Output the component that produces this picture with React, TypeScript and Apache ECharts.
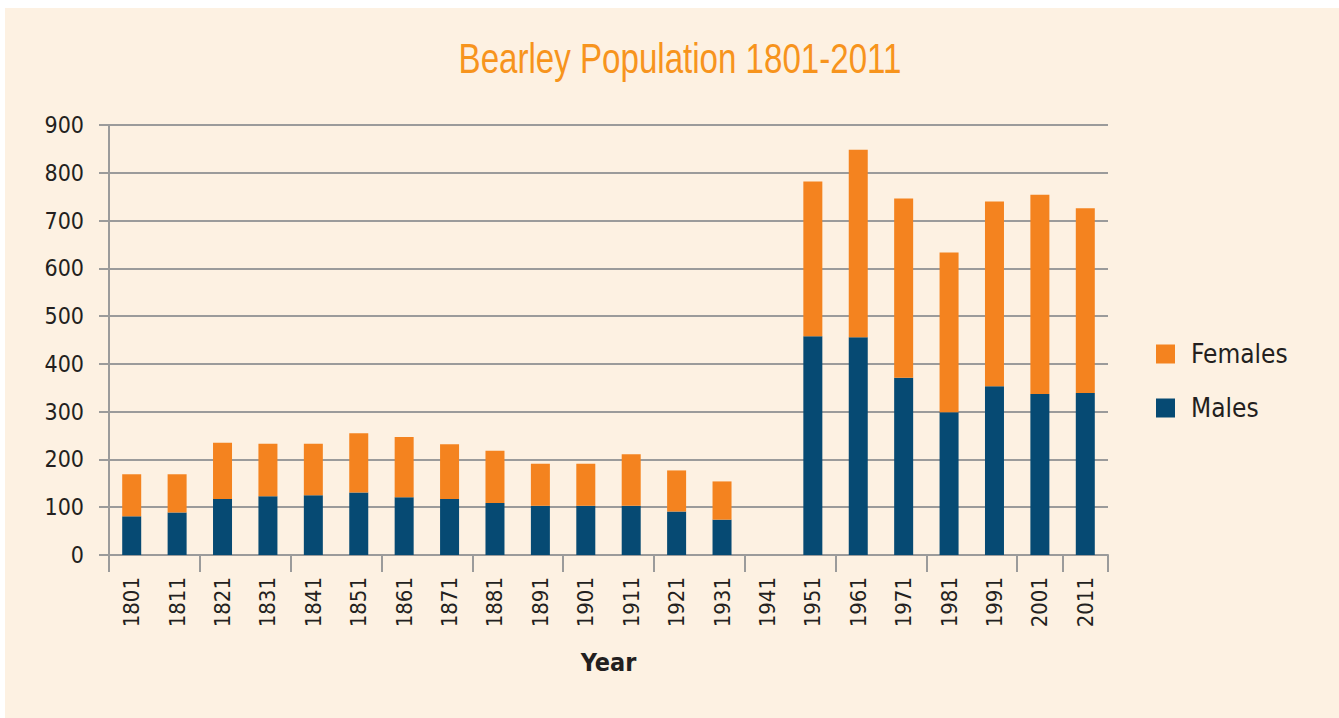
import React, { useEffect, useRef } from "react";
import * as echarts from "echarts";

const years = ["1801","1811","1821","1831","1841","1851","1861","1871","1881","1891","1901","1911","1921","1931","1941","1951","1961","1971","1981","1991","2001","2011"];
const males = [81, 89, 117, 123, 125, 131, 121, 117, 109, 103, 103, 103, 91, 74, 0, 458, 456, 371, 299, 353, 337, 339];
const females = [88, 80, 118, 110, 108, 124, 126, 115, 109, 88, 88, 108, 86, 80, 0, 324, 392, 375, 334, 387, 417, 387];
const yTicks = { min: 0, max: 900, interval: 100 };
const titleText = "Bearley Population 1801-2011";

const FONT = '"DejaVu Sans Condensed", "Liberation Sans", sans-serif';
const ORANGE = "#F4831F";
const BLUE = "#064A73";
const GRID = "#9B9B9B";
const TEXT = "#231F20";

export default function App() {
  const ref = useRef<HTMLDivElement>(null);
  useEffect(() => {
    const chart = echarts.init(ref.current!, undefined, { renderer: "svg" });
    chart.setOption({
      animation: false,
      backgroundColor: "#FFFFFF",
      graphic: [
        {
          type: "rect",
          z: -10,
          silent: true,
          shape: { x: 5, y: 8, width: 1334, height: 710 },
          style: { fill: "#FDF1E2" },
        },
        {
          type: "text",
          x: 680,
          y: 58,
          scaleX: 0.77,
          silent: true,
          style: {
            text: titleText,
            fill: "#F7941D",
            font: '43px "Liberation Sans", sans-serif',
            textAlign: "center",
            textVerticalAlign: "middle",
          },
        },
      ],
      legend: {
        orient: "vertical",
        left: 1156,
        top: 339,
        padding: 0,
        itemWidth: 19,
        itemHeight: 19,
        itemGap: 24,
        icon: "rect",
        data: ["Females", "Males"],
        textStyle: { color: TEXT, fontFamily: FONT, fontSize: 26, lineHeight: 30, padding: [0, 0, 0, 11] },
      },
      grid: { left: 109, right: 231, top: 125, bottom: 163, containLabel: false },
      xAxis: {
        type: "category",
        data: years,
        name: "Year",
        nameLocation: "middle",
        nameGap: 95,
        nameTextStyle: { color: TEXT, fontFamily: FONT, fontSize: 25, fontWeight: "bold" },
        axisLine: { show: true, lineStyle: { color: GRID, width: 2 } },
        axisTick: { show: true, interval: 1, length: 17, lineStyle: { color: GRID, width: 2 } },
        axisLabel: { interval: 0, rotate: 90, margin: 22, color: TEXT, fontFamily: FONT, fontSize: 22 },
      },
      yAxis: {
        type: "value",
        min: yTicks.min,
        max: yTicks.max,
        interval: yTicks.interval,
        axisLine: { show: true, lineStyle: { color: GRID, width: 2 } },
        axisTick: { show: true, length: 10, lineStyle: { color: GRID, width: 2 } },
        axisLabel: { margin: 25, color: TEXT, fontFamily: FONT, fontSize: 23 },
        splitLine: { show: true, lineStyle: { color: GRID, width: 2 } },
      },
      series: [
        {
          name: "Males",
          type: "bar",
          stack: "pop",
          barWidth: 19,
          itemStyle: { color: BLUE },
          data: males,
        },
        {
          name: "Females",
          type: "bar",
          stack: "pop",
          barWidth: 19,
          itemStyle: { color: ORANGE },
          data: females,
        },
      ],
    });
    return () => chart.dispose();
  }, []);
  return (
    <div
      ref={ref}
      style={{ position: "absolute", left: 0, top: 0, width: 1339, height: 718 }}
    />
  );
}
